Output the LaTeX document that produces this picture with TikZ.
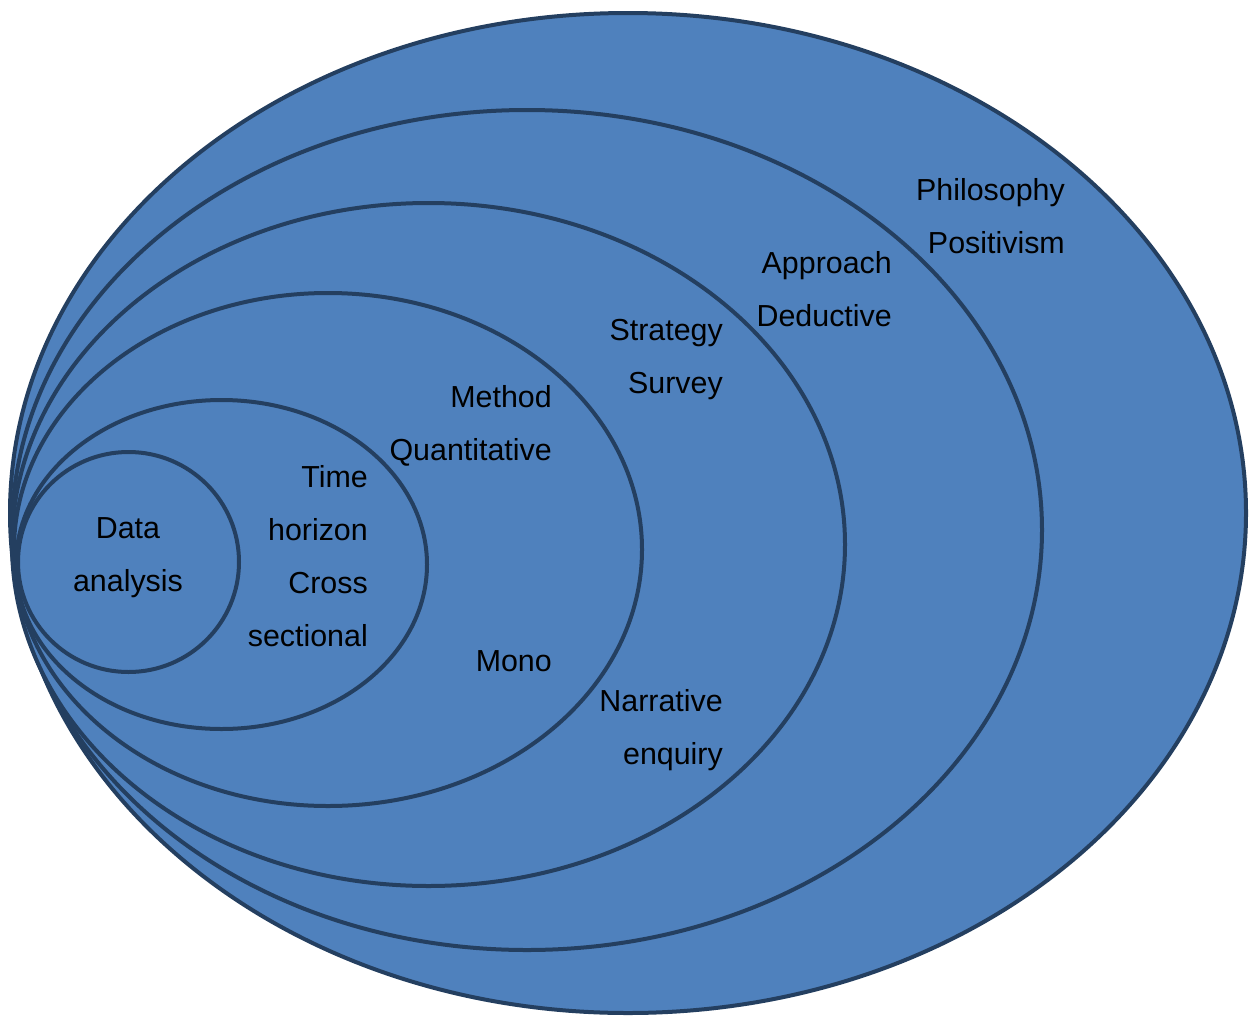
\documentclass[tikz,border=0pt]{standalone}
\usepackage{fontspec}
\setmainfont{Liberation Sans}
\definecolor{layerfill}{HTML}{4F81BD}
\definecolor{layerline}{HTML}{243F60}
\begin{document}
\begin{tikzpicture}[x=1pt,y=-1pt,
  layer/.style={fill=layerfill,draw=layerline,line width=4pt},
  lbl/.style={font=\fontsize{30.4}{53}\selectfont,align=right,anchor=east,inner sep=0pt,text=black},
  clbl/.style={font=\fontsize{30.4}{53}\selectfont,align=center,inner sep=0pt,text=black}]
\useasboundingbox (0,0) rectangle (1252,1017);
% nested layers, outermost first
\path[layer] (628,513) ellipse [x radius=618,y radius=500];
\path[layer] (527,530) ellipse [x radius=515,y radius=420];
\path[layer] (428.5,544.5) ellipse [x radius=416.5,y radius=341.5];
\path[layer] (328,549.5) ellipse [x radius=314,y radius=256.5];
\path[layer] (221.5,564.5) ellipse [x radius=205.5,y radius=164.5];
\path[layer] (128.5,562) ellipse [x radius=110.5,y radius=110];
% layer labels
\node[lbl] (philosophy) at (1065,216) {Philosophy\\Positivism};
\node[lbl] (approach) at (892,289) {Approach\\Deductive};
\node[lbl] (strategy) at (723,359.5) {Strategy\\Survey};
\node[lbl] (method) at (552,425.5) {Method\\Quantitative};
\node[lbl] (time) at (368,556) {Time\\horizon\\Cross\\sectional};
\node[lbl] (mono) at (552,661) {Mono};
\node[lbl] (narrative) at (723,730) {Narrative\\enquiry};
\node[clbl] (data) at (128,557.5) {Data\\analysis};
\end{tikzpicture}
\end{document}
